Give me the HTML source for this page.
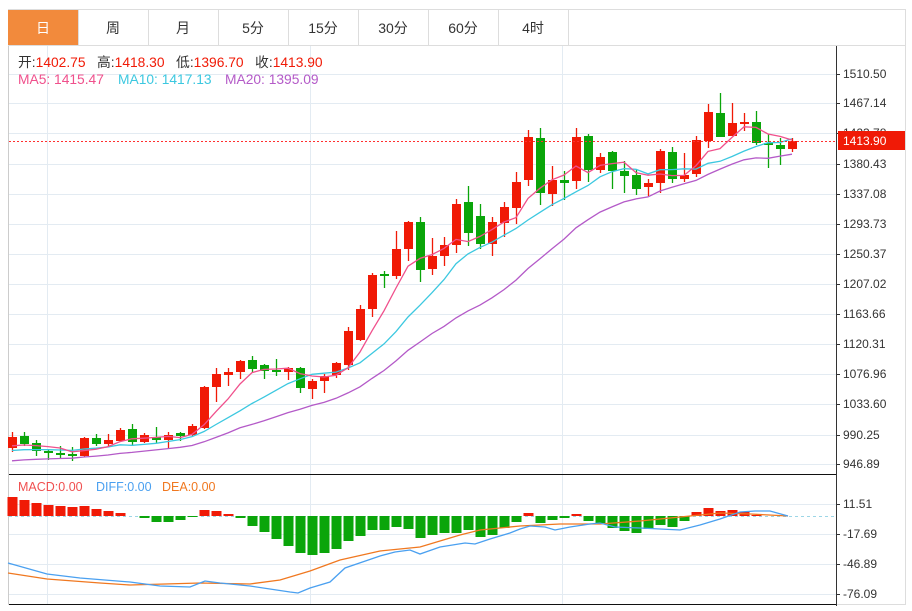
<!DOCTYPE html>
<html><head><meta charset="utf-8"><style>
body{margin:0;background:#fff;width:912px;height:606px;overflow:hidden;font-family:"Liberation Sans","Noto Sans CJK SC",sans-serif}
svg text{font-family:"Liberation Sans","Noto Sans CJK SC",sans-serif}
</style></head><body>
<svg id="s" width="912" height="606" xmlns="http://www.w3.org/2000/svg"></svg>
<script>
var C=[
[437,448,432,452,1],[436,444,432,446,0],[443,451,440,456,0],[451,453,449,460,0],[453,455,446,459,0],[454,456,447,461,0],
[438,456,437,457,1],[438,444,434,446,0],[440,444,434,447,1],[430,441,428,442,1],[429,442,424,446,0],[435,442,433,443,1],
[437,440,427,443,0],[435,440,432,449,1],[433,436,432,441,0],[426,435,424,437,1],[387,428,386,429,1],[374,387,368,402,1],
[372,375,368,386,1],[361,372,360,379,1],[360,369,356,372,0],[365,371,364,379,0],[370,372,359,376,0],[368,372,367,380,1],
[368,388,367,393,0],[381,389,379,399,1],[376,381,374,393,1],[363,375,362,378,1],[331,365,327,370,1],[309,340,305,341,1],
[275,309,273,317,1],[274,276,271,288,0],[249,276,231,279,1],[222,249,221,261,1],[222,270,217,282,0],[256,269,238,275,1],
[245,256,237,266,1],[204,245,199,253,1],[202,233,186,246,0],[216,244,204,249,0],[222,244,217,256,1],[207,223,202,237,1],
[182,208,172,224,1],[137,180,130,186,1],[138,193,128,205,0],[180,194,166,206,1],[180,183,171,200,0],[137,181,128,189,1],
[136,170,134,182,0],[157,170,153,173,1],[152,171,151,189,0],[171,176,161,193,0],[175,189,170,195,0],[183,187,179,196,1],
[151,183,149,193,1],[152,179,147,183,0],[175,179,153,182,1],[140,174,136,177,1],[112,141,104,148,1],[113,137,93,137,0],
[123,136,103,136,1],[122,124,113,131,1],[122,143,111,145,0],[143,145,134,168,0],[145,149,138,165,0],[141,149,138,152,1]];
var H=[497,500,503,505,506,507,506,509,511,513,516,518,522,522,520,517,510,511,514,518,526,532,539,546,553,555,553,549,541,536,530,530,527,529,538,535,533,533,530,537,535,528,522,513,523,520,518,514,521,523,528,531,533,529,525,527,521,512,508,511,510,512,515,516,516,516];
var o='';
function L(x1,y1,x2,y2,c,w,d){o+='<line x1="'+x1+'" y1="'+y1+'" x2="'+x2+'" y2="'+y2+'" stroke="'+c+'" stroke-width="'+(w||1)+'"'+(d?' stroke-dasharray="'+d+'"':'')+'/>';}
function T(x,y,t,c,s,a){o+='<text x="'+x+'" y="'+y+'" fill="'+c+'" font-size="'+(s||12)+'"'+(a?' text-anchor="'+a+'"':'')+'>'+t+'</text>';}
o+='<rect x="8.5" y="9.5" width="897" height="595" fill="none" stroke="#ddd"/>';
L(8,45.5,906,45.5,'#ddd');
var tabs=['日','周','月','5分','15分','30分','60分','4时'];
o+='<rect x="8" y="10" width="70" height="35" fill="#f28a3c"/>';
for(var i=0;i<8;i++){var x=8+70*i;L(x+70.5,10,x+70.5,45,'#ddd');T(x+35,33,tabs[i],i?'#333':'#fff',14,'middle');}
var gy=[74,103,133,164,194,224,254,284,314,344,374,404,435,464];
var gl=['1510.50','1467.14','1423.78','1380.43','1337.08','1293.73','1250.37','1207.02','1163.66','1120.31','1076.96','1033.60','990.25','946.89'];
[47,310,562].forEach(function(x){L(x+.5,46,x+.5,604,'#e3ebf2');});
gy.forEach(function(y,i){L(9,y+.5,836,y+.5,'#e3ebf2');L(836,y+.5,840,y+.5,'#333');T(843,y+4,gl[i],'#333',12);});
var my=[504,534,564,594],ml=['11.51','-17.69','-46.89','-76.09'];
my.forEach(function(y,i){L(9,y+.5,836,y+.5,'#e3ebf2');L(836,y+.5,840,y+.5,'#333');T(843,y+4,ml[i],'#333',12);});
L(9,474.5,836,474.5,'#111');L(9,604.5,836,604.5,'#111');L(836.5,46,836.5,606,'#333');L(8.5,46,8.5,604,'#ccc');
var cl=[];
C.forEach(function(c,i){var x=12+12*i,col=c[4]?'#f01a06':'#0aa50a';
L(x+.5,c[2],x+.5,c[3],col,1.3);o+='<rect x="'+(x-4)+'" y="'+c[0]+'" width="9" height="'+Math.max(2,c[1]-c[0])+'" fill="'+col+'"/>';
cl.push(c[4]?c[0]:c[1]);});
function ma(n,pad){var p='';for(var i=0;i<cl.length;i++){var s=0;for(var k=i-n+1;k<=i;k++)s+=k<0?pad:cl[k];p+=(i?'L':'M')+(12+12*i)+' '+(s/n).toFixed(1);}return p;}
o+='<path d="'+ma(20,462)+'" fill="none" stroke="#b45ac8" stroke-width="1.3"/>';
o+='<path d="'+ma(10,452)+'" fill="none" stroke="#3cc8e0" stroke-width="1.3"/>';
o+='<path d="'+ma(5,448)+'" fill="none" stroke="#f0508c" stroke-width="1.3"/>';
L(9,141.5,836,141.5,'#ff3030',1,'2,2');
o+='<rect x="838" y="131" width="67" height="19" fill="#f01a06"/>';T(843,145,'1413.90','#fff',12);
T(18,67,'开:<tspan fill="#f01a06">1402.75</tspan>&#160;&#160;&#160;高:<tspan fill="#f01a06">1418.30</tspan>&#160;&#160;&#160;低:<tspan fill="#f01a06">1396.70</tspan>&#160;&#160;&#160;收:<tspan fill="#f01a06">1413.90</tspan>','#333',13.8);
T(18,84,'MA5: 1415.47','#f0508c',13.8);T(118,84,'MA10: 1417.13','#3cc8e0',13.8);T(225,84,'MA20: 1395.09','#b45ac8',13.8);
T(18,491,'MACD:0.00','#f05050',12.5);T(96,491,'DIFF:0.00','#4aa0f0',12.5);T(162,491,'DEA:0.00','#f07820',12.5);
L(9,516.5,836,516.5,'#9cd6e6',1,'3,3');
H.forEach(function(h,i){var x=12+12*i;if(Math.abs(h-516)<1)return;var col=h<516?'#f01a06':'#0aa50a';var y=Math.min(h,516),hh=Math.abs(h-516);
o+='<rect x="'+(x-4.5)+'" y="'+y+'" width="10" height="'+hh+'" fill="'+col+'"/>';});
o+='<path d="M8 573L47 579L100 583L130 585L200 583L250 584L280 580L310 571L340 560L380 551L420 547L460 535L480 530L520 526L560 524L600 524L640 521L680 517L700 515L720 513L750 514L788 516" fill="none" stroke="#f07820" stroke-width="1.3"/>';
o+='<path d="M8 563L47 574L80 578L130 582L160 586L190 587L205 581L220 583L250 586L290 592L298 593L310 588L330 582L345 568L380 556L395 552L410 550L420 554L440 547L465 543L475 544L490 539L510 533L520 529L530 526L545 527L555 530L570 527L590 524L600 523L615 527L640 528L680 530L700 525L720 519L740 512L755 511L770 511L788 516" fill="none" stroke="#4aa0f0" stroke-width="1.3"/>';
document.getElementById('s').innerHTML=o;
</script>
</body></html>
